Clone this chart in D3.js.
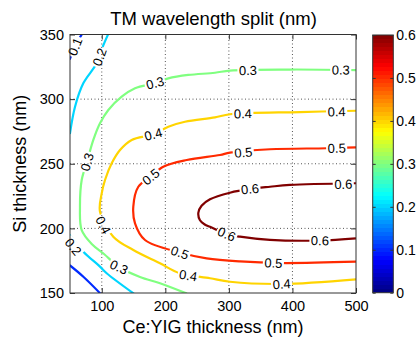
<!DOCTYPE html>
<html><head><meta charset="utf-8">
<script src="https://cdn.jsdelivr.net/npm/d3@7"></script>
<style>body{margin:0;background:#fff}</style>
</head><body>
<svg id="c" width="420" height="341"></svg>
<script>
// ---- data ----
const xTicks = [100, 200, 300, 400, 500];
const yTicks = [150, 200, 250, 300, 350];
const cbTicks = [0, 0.1, 0.2, 0.3, 0.4, 0.5, 0.6];
const levels = [0.1, 0.2, 0.3, 0.4, 0.5, 0.6];

// contour lines: [Ce:YIG thickness, Si thickness]
const c01top = [[49.5,330.5],[58,341],[69,350.5]];
const c01bot = [[49.5,171.5],[71,162.6],[98,149.5]];
const c02top = [[49.8,273],[57.9,294.1],[70.9,312.2],[92,327.7],[101.5,340.5],[110.3,350.5]];
const c02bot = [[49.5,195],[71,182],[97.2,170.4],[107.7,165.3],[150.5,149.5]];
const c03 = [[234,149.5],[191.6,157.5],[160.1,162.4],[127.1,170.1],[103.5,180.2],[84.6,187.8],[68.4,198.7],[65.7,216.8],[68.4,237.4],[76.7,251.4],[86.7,268.4],[97.2,281.3],[110.3,291.6],[131.3,301.9],[152.3,308.4],[183.7,312.5],[204.7,316.1],[236.1,318.7],[278.1,320.4],[301.7,322.1],[396.1,322.9],[500,322.5]];
const c04 = [[500,160.6],[383,157],[301.7,158.7],[270.3,161.4],[223,165.2],[191.6,173],[149.6,183.3],[118.1,193.6],[97.2,212.9],[99.9,227.1],[105.1,237.4],[115.6,250.3],[128.7,260.6],[147.1,268.4],[181.1,272.8],[204.7,278.7],[230.9,282.5],[278.1,285.9],[301.7,288.3],[412,290],[500,291]];
const c05 = [[500,262.7],[453.9,262],[364.7,261.2],[301.7,258.6],[286,256.8],[233.6,252.9],[196.8,247.7],[177.1,240],[157.5,232.2],[149.6,216.8],[152.3,203.9],[168,191],[223,181.3],[265,176.8],[317.5,174.4],[380.4,173.2],[500,174.2]];
const c06 = [[500,234.9],[396.1,233.6],[364.7,232.2],[333.2,230.5],[301.7,227.6],[270.3,222.5],[257,217.5],[251.9,212],[254.5,206.3],[262,203],[270.3,201.2],[296.5,195.6],[317.5,193.6],[364.7,191.1],[443.3,190.6],[500,192.3]];

const contours = [
  {level:0.1, pts:c01top}, {level:0.1, pts:c01bot},
  {level:0.2, pts:c02top}, {level:0.2, pts:c02bot},
  {level:0.3, pts:c03}, {level:0.4, pts:c04},
  {level:0.5, pts:c05}, {level:0.6, pts:c06}
];

// inline contour labels: [level, x, y]
const labelPos = [
  [0.1,57.9,340.6],
  [0.2,96.4,332.6],[0.2,55.2,185.8],
  [0.3,183.7,312.5],[0.3,76.7,251.4],[0.3,127.1,170.1],[0.3,330,322.3],[0.3,476,322.6],
  [0.4,181.1,272.8],[0.4,322,288.8],[0.4,469.6,290.4],[0.4,102.4,202.6],[0.4,236,163.6],[0.4,383,157],
  [0.5,322.7,258.8],[0.5,469.6,262.1],[0.5,177.1,240],[0.5,223,181.3],[0.5,370,173.3],
  [0.6,333.2,230.5],[0.6,480,234.2],[0.6,296.5,195.6],[0.6,443.3,190.6]
];

// ---- drawing ----
const W = 420, H = 341;
const FONT = '"Liberation Sans", Arial, Helvetica, sans-serif';
const svg = d3.select("#c");
const defs = svg.append("defs");
const x = d3.scaleLinear([50, 500], [70, 356]);
const y = d3.scaleLinear([150, 350], [293, 34.5]);
const cmax = 0.6;
const jet = t => {
  const c = v => Math.round(255 * Math.max(0, Math.min(1, v)));
  return `rgb(${c(1.5 - Math.abs(4*t - 3))},${c(1.5 - Math.abs(4*t - 2))},${c(1.5 - Math.abs(4*t - 1))})`;
};

// grid
const grid = svg.append("g").attr("stroke", "#555").attr("stroke-width", 1).attr("stroke-dasharray", "1,2.5");
grid.selectAll(".gx").data(xTicks.filter(v => v > 50 && v < 500)).join("line")
  .attr("x1", d => x(d)).attr("x2", d => x(d)).attr("y1", y(150)).attr("y2", y(350));
grid.selectAll(".gy").data(yTicks.filter(v => v > 150 && v < 350)).join("line")
  .attr("y1", d => y(d)).attr("y2", d => y(d)).attr("x1", x(50)).attr("x2", x(500));

// clip + mask for label gaps
defs.append("clipPath").attr("id", "clip").append("rect")
  .attr("x", x(50)).attr("y", y(350)).attr("width", x(500) - x(50)).attr("height", y(150) - y(350));
const mask = defs.append("mask").attr("id", "lm").attr("maskUnits", "userSpaceOnUse")
  .attr("x", 0).attr("y", 0).attr("width", W).attr("height", H);
mask.append("rect").attr("width", W).attr("height", H).attr("fill", "#fff");

const lineGen = d3.line().x(d => x(d[0])).y(d => y(d[1])).curve(d3.curveCatmullRom.alpha(0.5));
const cg = svg.append("g").attr("clip-path", "url(#clip)").append("g").attr("mask", "url(#lm)");
contours.forEach(c => {
  cg.append("path").attr("d", lineGen(c.pts)).attr("fill", "none")
    .attr("stroke", jet(c.level / cmax)).attr("stroke-width", 2.2).attr("stroke-linejoin", "round");
});

// labels
const lg = svg.append("g").attr("font-family", FONT).attr("font-size", 13).attr("fill", "#000");
labelPos.forEach(([lv, lx, ly]) => {
  const px = x(lx), py = y(ly);
  let best = 1e9, ang = 0;
  contours.filter(c => c.level === lv).forEach(c => {
    const p = c.pts.map(d => [x(d[0]), y(d[1])]);
    for (let i = 0; i < p.length - 1; i++) {
      const [ax, ay] = p[i], [bx, by] = p[i+1];
      const dx = bx - ax, dy = by - ay, L = dx*dx + dy*dy;
      let t = L ? ((px - ax)*dx + (py - ay)*dy) / L : 0;
      t = Math.max(0, Math.min(1, t));
      const qx = ax + t*dx, qy = ay + t*dy;
      const dd = (qx - px)**2 + (qy - py)**2;
      if (dd < best) { best = dd; ang = Math.atan2(dy, dx) * 180 / Math.PI; }
    }
  });
  if (ang > 90) ang -= 180;
  if (ang < -90) ang += 180;
  const tr = `translate(${px},${py}) rotate(${ang})`;
  const t = lg.append("text").attr("transform", tr).attr("text-anchor", "middle")
    .attr("dy", "0.36em").text(lv.toFixed(1));
  const w = t.node().getComputedTextLength();
  mask.append("rect").attr("transform", tr).attr("x", -w/2 - 1.5).attr("y", -6)
    .attr("width", w + 3).attr("height", 12).attr("fill", "#000");
});

// axes
const styleAxis = (sel, fs) => {
  sel.attr("font-family", FONT).attr("font-size", fs);
  sel.select(".domain").remove();
  sel.selectAll(".tick line").attr("stroke", "#333");
  sel.selectAll(".tick text").attr("fill", "#000");
};
svg.append("g").attr("transform", `translate(0,${y(150)})`)
  .call(d3.axisBottom(x).tickValues(xTicks).tickSize(-5).tickSizeOuter(0).tickPadding(8))
  .call(s => styleAxis(s, 14.5));
svg.append("g").attr("transform", `translate(${x(50)},0)`)
  .call(d3.axisLeft(y).tickValues(yTicks).tickSize(-5).tickSizeOuter(0).tickPadding(6))
  .call(s => styleAxis(s, 14.5));
svg.append("g").attr("transform", `translate(0,${y(350)})`)
  .call(d3.axisTop(x).tickValues(xTicks).tickSize(-5).tickSizeOuter(0).tickFormat(() => ""))
  .call(s => styleAxis(s, 14.5));
svg.append("g").attr("transform", `translate(${x(500)},0)`)
  .call(d3.axisRight(y).tickValues(yTicks).tickSize(-5).tickSizeOuter(0).tickFormat(() => ""))
  .call(s => styleAxis(s, 14.5));
svg.append("rect").attr("x", x(50)).attr("y", y(350)).attr("width", x(500) - x(50))
  .attr("height", y(150) - y(350)).attr("fill", "none").attr("stroke", "#333").attr("stroke-width", 1);

// titles
svg.append("text").attr("x", 213.5).attr("y", 25).attr("text-anchor", "middle")
  .attr("font-family", FONT).attr("font-size", 18.5).text("TM wavelength split (nm)");
svg.append("text").attr("x", 213).attr("y", 333).attr("text-anchor", "middle")
  .attr("font-family", FONT).attr("font-size", 18).text("Ce:YIG thickness (nm)");
svg.append("text").attr("transform", `translate(26,${(y(150) + y(350)) / 2}) rotate(-90)`)
  .attr("text-anchor", "middle").attr("font-family", FONT).attr("font-size", 18).text("Si thickness (nm)");

// colorbar
const cbX0 = 372.7, cbX1 = 393.3;
const cy = d3.scaleLinear([0, 0.6], [292.7, 35]);
const grad = defs.append("linearGradient").attr("id", "jet").attr("x1", 0).attr("y1", 1).attr("x2", 0).attr("y2", 0);
d3.range(0, 64).forEach(i => {
  grad.append("stop").attr("offset", i / 64).attr("stop-color", jet((i + 0.5) / 64));
  grad.append("stop").attr("offset", (i + 1) / 64).attr("stop-color", jet((i + 0.5) / 64));
});
svg.append("rect").attr("x", cbX0).attr("y", cy(0.6)).attr("width", cbX1 - cbX0)
  .attr("height", cy(0) - cy(0.6)).attr("fill", "url(#jet)");
svg.append("g").attr("transform", `translate(${cbX1},0)`)
  .call(d3.axisRight(cy).tickValues(cbTicks).tickSize(-3).tickSizeOuter(0).tickPadding(3).tickFormat(d => d === 0 ? "0" : d.toFixed(1)))
  .call(s => styleAxis(s, 14));
svg.append("g").attr("transform", `translate(${cbX0},0)`)
  .call(d3.axisLeft(cy).tickValues(cbTicks).tickSize(-3).tickSizeOuter(0).tickFormat(() => ""))
  .call(s => styleAxis(s, 14));
svg.append("rect").attr("x", cbX0).attr("y", cy(0.6)).attr("width", cbX1 - cbX0)
  .attr("height", cy(0) - cy(0.6)).attr("fill", "none").attr("stroke", "#333").attr("stroke-width", 1);
</script>
</body></html>
